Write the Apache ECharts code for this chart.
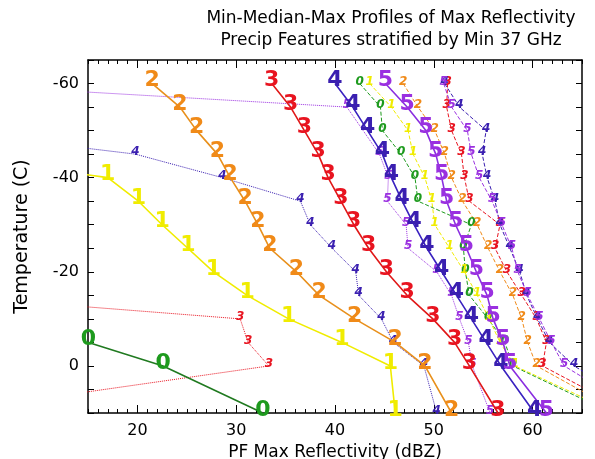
<!DOCTYPE html>
<html>
<head>
<meta charset="utf-8">
<script src="https://cdn.jsdelivr.net/npm/echarts@6/dist/echarts.min.js"></script>
<style>
  html, body { margin: 0; padding: 0; background: #fff; }
  #chart { width: 595px; height: 459px; }
</style>
</head>
<body>
<div id="chart"></div>
<script>
// temperature levels (C) of each profile point
const levels = [-60, -55, -50, -45, -40, -35, -30, -25, -20, -15, -10, -5, 0, 10];
const xTickLabels = [20, 30, 40, 50, 60];
const yTickLabels = [-60, -40, -20, 0];

// median profiles, one per min-37GHz class (0 = missing / off scale)
const med0 = [0, 0, 0, 0, 0, 0, 0, 0, 0, 0, 0, 15.05, 22.6, 32.7];
const med1 = [0, 0, 0, 0, 17.0, 20.1, 22.5, 25.1, 27.7, 31.1, 35.3, 40.7, 45.6, 46.1];
const med2 = [21.5, 24.3, 26.0, 28.1, 29.4, 30.9, 32.2, 33.4, 36.1, 38.4, 42.0, 46.1, 49.1, 51.8];
const med3 = [33.6, 35.5, 36.9, 38.3, 39.3, 40.6, 41.9, 43.4, 45.2, 47.3, 49.9, 52.1, 53.6, 56.5];
const med4 = [40.0, 41.8, 43.3, 44.8, 45.7, 46.8, 48.0, 49.3, 50.8, 52.3, 53.8, 55.3, 56.8, 60.2];
const med5 = [45.1, 47.3, 49.2, 50.2, 50.8, 51.3, 52.2, 53.3, 54.3, 55.4, 56.0, 57.0, 57.7, 61.4];

// min profiles (dotted)
const min3 = [0, 0, 0, 0, 0, 0, 0, 0, 0, 0, 30.4, 31.2, 33.3, 0];
const min4 = [0, 0, 0, 19.8, 28.6, 36.5, 37.5, 39.7, 42.1, 42.4, 44.7, 45.9, 49.0, 50.3];
const min5 = [0, 41.2, null, 44.5, 45.4, 45.3, 47.2, 47.4, 50.3, 51.8, 52.6, 53.5, 53.9, 55.7];

// max profiles (dashed)
const max0 = [42.5, 44.6, 44.8, 46.7, 48.1, 48.4, 53.8, 53.0, 53.2, 53.6, 55.5, 57.2, 58.0, 68.0];
const max1 = [43.5, 45.7, 47.4, 47.9, 49.1, 49.8, 50.1, 51.6, 53.1, 54.4, 55.6, 56.7, 58.2, 68.5];
const max2 = [46.9, 48.4, 50.1, 51.1, 51.8, 52.9, 54.4, 55.5, 56.7, 58.0, 58.9, 59.5, 60.4, 69.0];
const max3 = [51.4, 51.3, 51.8, 52.8, 53.1, 53.6, 56.7, 56.2, 57.4, 58.9, 60.4, 61.4, 61.0, 70.0];
const max4 = [51.1, 52.6, 55.3, 54.9, 55.4, 56.2, 56.7, 57.7, 58.7, 59.4, 60.5, 61.7, 64.2, 72.0];
const max5 = [51.0, 51.8, 53.4, 53.8, 54.6, 55.9, 56.9, 57.9, 58.5, 59.5, 60.7, 61.9, 63.2, 71.0];

const FONT = "DejaVu Sans";
const colors = ["#1d9a1d", "#f0ec00", "#f08a18", "#e81420", "#3a1fb0", "#9a30e0"];
const lineColors = ["#207a20", "#f0ec00", "#e8901c", "#e01818", "#3a22c0", "#8a2ee0"];

function pts(vals) {
  return levels.map((t, i) => (vals[i] == null ? ["-", t] : [vals[i], t]));
}

function profile(vals, digit, kind) {
  const big = kind === "med";
  const c = big ? lineColors[digit] : colors[digit];
  return {
    type: "line",
    data: pts(vals),
    clip: true,
    connectNulls: true,
    silent: true,
    animation: false,
    symbol: "circle",
    symbolSize: 2,
    itemStyle: { color: "rgba(0,0,0,0)", borderWidth: 0 },
    lineStyle: {
      color: c,
      width: big ? 1.6 : 1,
      type: kind === "min" ? "dotted" : kind === "max" ? "dashed" : "solid",
    },
    label: {
      show: true,
      formatter: String(digit),
      position: "inside",
      offset: big ? [0, -3] : [0, -2],
      color: colors[digit],
      fontFamily: FONT,
      fontSize: big ? 22 : 12,
      fontWeight: "bold",
      fontStyle: big ? "normal" : "italic",
    },
    z: big ? 4 : 3,
  };
}

const axisBase = {
  type: "value",
  min: 15,
  max: 65,
  splitLine: { show: false },
};
const yBase = {
  type: "value",
  min: -65,
  max: 10,
  interval: 5,
  inverse: true,
  splitLine: { show: false },
  axisLine: { show: true, onZero: false, lineStyle: { color: "#000", width: 1.5 } },
  axisTick: { inside: true, length: 6, lineStyle: { color: "#000" } },
};

const chart = echarts.init(document.getElementById("chart"), null, { renderer: "canvas" });
chart.setOption({
  backgroundColor: "#fff",
  animation: false,
  title: {
    text: "Min-Median-Max Profiles of Max Reflectivity\nPrecip Features stratified by Min 37 GHz",
    left: 386,
    top: 3,
    textAlign: "center",
    textStyle: { fontFamily: FONT, fontSize: 17, fontWeight: "normal", lineHeight: 22, color: "#000" },
  },
  grid: { left: 88, right: 13, top: 60, bottom: 46, outerBoundsMode: "none", containLabel: false },
  xAxis: [
    Object.assign({}, axisBase, {
      position: "bottom",
      axisLine: { onZero: false, lineStyle: { color: "#000", width: 1.5 } },
      axisTick: { inside: true, length: 8, customValues: xTickLabels, lineStyle: { color: "#000" } },
      axisLabel: { customValues: xTickLabels, color: "#000", fontFamily: FONT, fontSize: 16, margin: 10 },
      name: "PF Max Reflectivity (dBZ)",
      nameLocation: "middle",
      nameGap: 29,
      nameTextStyle: { color: "#000", fontFamily: FONT, fontSize: 17 },
    }),
    Object.assign({}, axisBase, {
      position: "bottom",
      interval: 1,
      axisLine: { show: false, onZero: false },
      axisTick: { inside: true, length: 4, lineStyle: { color: "#000" } },
      axisLabel: { show: false },
    }),
    Object.assign({}, axisBase, {
      position: "top",
      axisLine: { onZero: false, lineStyle: { color: "#000", width: 1.5 } },
      axisTick: { inside: true, length: 8, customValues: xTickLabels, lineStyle: { color: "#000" } },
      axisLabel: { show: false },
    }),
    Object.assign({}, axisBase, {
      position: "top",
      interval: 1,
      axisLine: { show: false, onZero: false },
      axisTick: { inside: true, length: 4, lineStyle: { color: "#000" } },
      axisLabel: { show: false },
    }),
  ],
  yAxis: [
    Object.assign({}, yBase, {
      position: "left",
      axisLabel: {
        color: "#000",
        fontFamily: FONT,
        fontSize: 16,
        margin: 9,
        formatter: (v) => (yTickLabels.indexOf(v) >= 0 ? String(v) : ""),
      },
      name: "Temperature (C)",
      nameLocation: "middle",
      nameGap: 56,
      nameTextStyle: { color: "#000", fontFamily: FONT, fontSize: 19 },
    }),
    Object.assign({}, yBase, { position: "right", axisLabel: { show: false } }),
  ],
  series: [
    profile(min3, 3, "min"),
    profile(min4, 4, "min"),
    profile(min5, 5, "min"),
    profile(max0, 0, "max"),
    profile(max1, 1, "max"),
    profile(max2, 2, "max"),
    profile(max3, 3, "max"),
    profile(max4, 4, "max"),
    profile(max5, 5, "max"),
    profile(med0, 0, "med"),
    profile(med1, 1, "med"),
    profile(med2, 2, "med"),
    profile(med3, 3, "med"),
    profile(med4, 4, "med"),
    profile(med5, 5, "med"),
  ],
});
</script>
</body>
</html>
